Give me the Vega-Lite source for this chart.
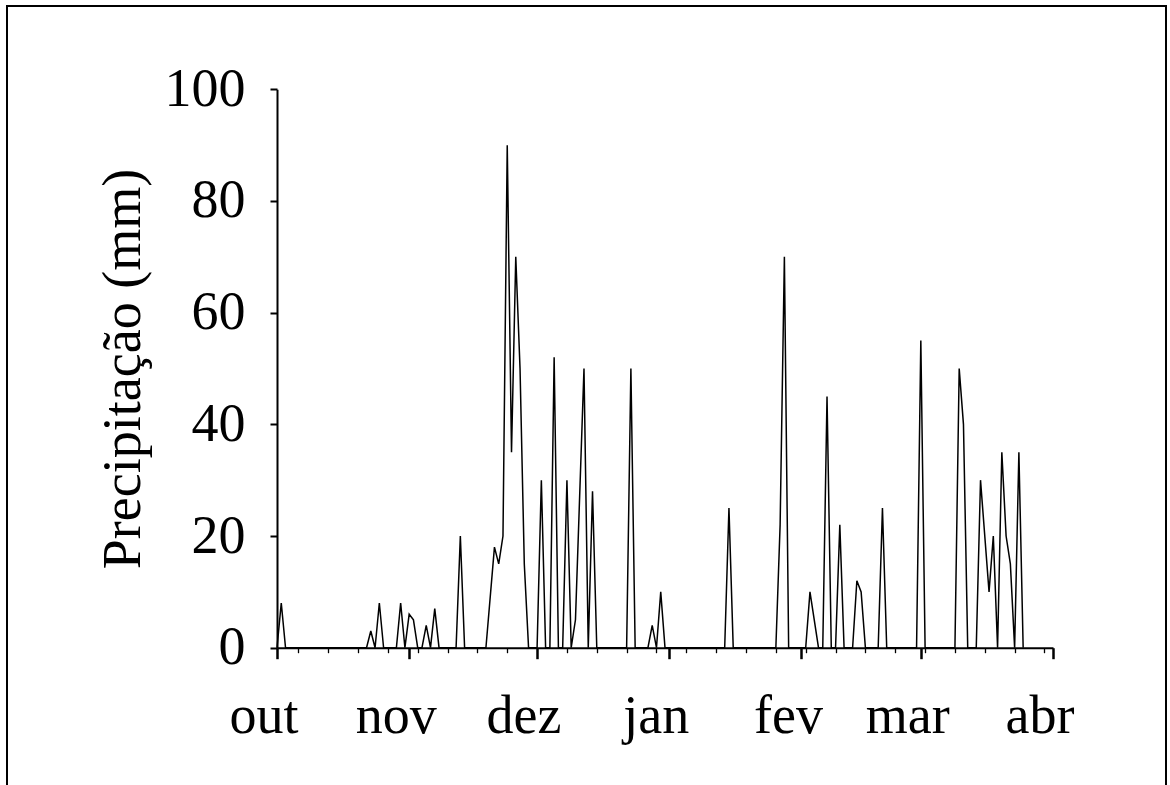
{
  "$schema": "https://vega.github.io/schema/vega-lite/v6.json",
  "width": 1159,
  "height": 800,
  "autosize": {"type": "none"},
  "padding": {"left": 7, "top": 6, "right": 4, "bottom": 0},
  "background": "white",
  "config": {
    "view": {"stroke": "black", "strokeWidth": 2},
    "font": "Liberation Serif"
  },
  "data": {
    "values": [
      {"date": "2008-10-01", "mm": 0}, {"date": "2008-10-02", "mm": 8}, {"date": "2008-10-03", "mm": 0}, {"date": "2008-10-04", "mm": 0},
      {"date": "2008-10-05", "mm": 0}, {"date": "2008-10-06", "mm": 0}, {"date": "2008-10-07", "mm": 0}, {"date": "2008-10-08", "mm": 0},
      {"date": "2008-10-09", "mm": 0}, {"date": "2008-10-10", "mm": 0}, {"date": "2008-10-11", "mm": 0}, {"date": "2008-10-12", "mm": 0},
      {"date": "2008-10-13", "mm": 0}, {"date": "2008-10-14", "mm": 0}, {"date": "2008-10-15", "mm": 0}, {"date": "2008-10-16", "mm": 0},
      {"date": "2008-10-17", "mm": 0}, {"date": "2008-10-18", "mm": 0}, {"date": "2008-10-19", "mm": 0}, {"date": "2008-10-20", "mm": 0},
      {"date": "2008-10-21", "mm": 0}, {"date": "2008-10-22", "mm": 0}, {"date": "2008-10-23", "mm": 3}, {"date": "2008-10-24", "mm": 0},
      {"date": "2008-10-25", "mm": 8}, {"date": "2008-10-26", "mm": 0}, {"date": "2008-10-27", "mm": 0}, {"date": "2008-10-28", "mm": 0},
      {"date": "2008-10-29", "mm": 0}, {"date": "2008-10-30", "mm": 8}, {"date": "2008-10-31", "mm": 0},
      {"date": "2008-11-01", "mm": 6}, {"date": "2008-11-02", "mm": 5}, {"date": "2008-11-03", "mm": 0}, {"date": "2008-11-04", "mm": 0},
      {"date": "2008-11-05", "mm": 4}, {"date": "2008-11-06", "mm": 0}, {"date": "2008-11-07", "mm": 7}, {"date": "2008-11-08", "mm": 0},
      {"date": "2008-11-09", "mm": 0}, {"date": "2008-11-10", "mm": 0}, {"date": "2008-11-11", "mm": 0}, {"date": "2008-11-12", "mm": 0},
      {"date": "2008-11-13", "mm": 20}, {"date": "2008-11-14", "mm": 0}, {"date": "2008-11-15", "mm": 0}, {"date": "2008-11-16", "mm": 0},
      {"date": "2008-11-17", "mm": 0}, {"date": "2008-11-18", "mm": 0}, {"date": "2008-11-19", "mm": 0},
      {"date": "2008-11-21", "mm": 18}, {"date": "2008-11-22", "mm": 15}, {"date": "2008-11-23", "mm": 20}, {"date": "2008-11-24", "mm": 90},
      {"date": "2008-11-25", "mm": 35}, {"date": "2008-11-26", "mm": 70}, {"date": "2008-11-27", "mm": 50}, {"date": "2008-11-28", "mm": 15},
      {"date": "2008-11-29", "mm": 0}, {"date": "2008-11-30", "mm": 0},
      {"date": "2008-12-01", "mm": 0}, {"date": "2008-12-02", "mm": 30}, {"date": "2008-12-03", "mm": 0}, {"date": "2008-12-04", "mm": 0},
      {"date": "2008-12-05", "mm": 52}, {"date": "2008-12-06", "mm": 0}, {"date": "2008-12-07", "mm": 0}, {"date": "2008-12-08", "mm": 30},
      {"date": "2008-12-09", "mm": 0}, {"date": "2008-12-10", "mm": 5}, {"date": "2008-12-12", "mm": 50},
      {"date": "2008-12-13", "mm": 0}, {"date": "2008-12-14", "mm": 28}, {"date": "2008-12-15", "mm": 0}, {"date": "2008-12-16", "mm": 0},
      {"date": "2008-12-17", "mm": 0}, {"date": "2008-12-18", "mm": 0}, {"date": "2008-12-19", "mm": 0}, {"date": "2008-12-20", "mm": 0},
      {"date": "2008-12-21", "mm": 0}, {"date": "2008-12-22", "mm": 0}, {"date": "2008-12-23", "mm": 50}, {"date": "2008-12-24", "mm": 0},
      {"date": "2008-12-25", "mm": 0}, {"date": "2008-12-26", "mm": 0}, {"date": "2008-12-27", "mm": 0}, {"date": "2008-12-28", "mm": 4},
      {"date": "2008-12-29", "mm": 0}, {"date": "2008-12-30", "mm": 10}, {"date": "2008-12-31", "mm": 0},
      {"date": "2009-01-01", "mm": 0}, {"date": "2009-01-02", "mm": 0}, {"date": "2009-01-03", "mm": 0}, {"date": "2009-01-04", "mm": 0},
      {"date": "2009-01-05", "mm": 0}, {"date": "2009-01-06", "mm": 0}, {"date": "2009-01-07", "mm": 0}, {"date": "2009-01-08", "mm": 0},
      {"date": "2009-01-09", "mm": 0}, {"date": "2009-01-10", "mm": 0}, {"date": "2009-01-11", "mm": 0}, {"date": "2009-01-12", "mm": 0},
      {"date": "2009-01-13", "mm": 0}, {"date": "2009-01-14", "mm": 0}, {"date": "2009-01-15", "mm": 25}, {"date": "2009-01-16", "mm": 0},
      {"date": "2009-01-17", "mm": 0}, {"date": "2009-01-18", "mm": 0}, {"date": "2009-01-19", "mm": 0}, {"date": "2009-01-20", "mm": 0},
      {"date": "2009-01-21", "mm": 0}, {"date": "2009-01-22", "mm": 0}, {"date": "2009-01-23", "mm": 0}, {"date": "2009-01-24", "mm": 0},
      {"date": "2009-01-25", "mm": 0}, {"date": "2009-01-26", "mm": 0}, {"date": "2009-01-27", "mm": 22}, {"date": "2009-01-28", "mm": 70},
      {"date": "2009-01-29", "mm": 0}, {"date": "2009-01-30", "mm": 0}, {"date": "2009-01-31", "mm": 0},
      {"date": "2009-02-01", "mm": 0}, {"date": "2009-02-02", "mm": 0}, {"date": "2009-02-03", "mm": 10},
      {"date": "2009-02-05", "mm": 0}, {"date": "2009-02-06", "mm": 0}, {"date": "2009-02-07", "mm": 45}, {"date": "2009-02-08", "mm": 0},
      {"date": "2009-02-09", "mm": 0}, {"date": "2009-02-10", "mm": 22}, {"date": "2009-02-11", "mm": 0}, {"date": "2009-02-12", "mm": 0},
      {"date": "2009-02-13", "mm": 0}, {"date": "2009-02-14", "mm": 12}, {"date": "2009-02-15", "mm": 10}, {"date": "2009-02-16", "mm": 0},
      {"date": "2009-02-17", "mm": 0}, {"date": "2009-02-18", "mm": 0}, {"date": "2009-02-19", "mm": 0}, {"date": "2009-02-20", "mm": 25},
      {"date": "2009-02-21", "mm": 0}, {"date": "2009-02-22", "mm": 0}, {"date": "2009-02-23", "mm": 0}, {"date": "2009-02-24", "mm": 0},
      {"date": "2009-02-25", "mm": 0}, {"date": "2009-02-26", "mm": 0}, {"date": "2009-02-27", "mm": 0}, {"date": "2009-02-28", "mm": 0},
      {"date": "2009-03-01", "mm": 55}, {"date": "2009-03-02", "mm": 0}, {"date": "2009-03-03", "mm": 0}, {"date": "2009-03-04", "mm": 0},
      {"date": "2009-03-05", "mm": 0}, {"date": "2009-03-06", "mm": 0}, {"date": "2009-03-07", "mm": 0}, {"date": "2009-03-08", "mm": 0},
      {"date": "2009-03-09", "mm": 0}, {"date": "2009-03-10", "mm": 50}, {"date": "2009-03-11", "mm": 40}, {"date": "2009-03-12", "mm": 0},
      {"date": "2009-03-13", "mm": 0}, {"date": "2009-03-14", "mm": 0}, {"date": "2009-03-15", "mm": 30},
      {"date": "2009-03-17", "mm": 10}, {"date": "2009-03-18", "mm": 20}, {"date": "2009-03-19", "mm": 0}, {"date": "2009-03-20", "mm": 35},
      {"date": "2009-03-21", "mm": 20}, {"date": "2009-03-22", "mm": 15}, {"date": "2009-03-23", "mm": 0}, {"date": "2009-03-24", "mm": 35},
      {"date": "2009-03-25", "mm": 0}
    ]
  },
  "mark": {"type": "line", "color": "black", "strokeWidth": 1.5},
  "encoding": {
    "x": {
      "field": "date",
      "type": "temporal",
      "scale": {
        "type": "utc",
        "domain": [
          {"year": 2008, "month": 10, "date": 1, "utc": true},
          {"year": 2009, "month": 4, "date": 1, "utc": true}
        ],
        "range": [270, 1046]
      },
      "axis": {
        "title": null,
        "grid": false,
        "offset": -158.3,
        "domainColor": "black",
        "domainWidth": 2,
        "tickColor": "black",
        "tickSize": {"condition": {"test": "utcdate(datum.value) === 1", "value": 11}, "value": 5},
        "tickWidth": {"condition": {"test": "utcdate(datum.value) === 1", "value": 2.5}, "value": 1.3},
        "values": [
          {"year": 2008, "month": 10, "date": 1, "utc": true},
          {"year": 2008, "month": 10, "date": 6, "utc": true},
          {"year": 2008, "month": 10, "date": 13, "utc": true},
          {"year": 2008, "month": 10, "date": 20, "utc": true},
          {"year": 2008, "month": 10, "date": 27, "utc": true},
          {"year": 2008, "month": 11, "date": 1, "utc": true},
          {"year": 2008, "month": 11, "date": 3, "utc": true},
          {"year": 2008, "month": 11, "date": 10, "utc": true},
          {"year": 2008, "month": 11, "date": 17, "utc": true},
          {"year": 2008, "month": 11, "date": 24, "utc": true},
          {"year": 2008, "month": 12, "date": 1, "utc": true},
          {"year": 2008, "month": 12, "date": 8, "utc": true},
          {"year": 2008, "month": 12, "date": 15, "utc": true},
          {"year": 2008, "month": 12, "date": 22, "utc": true},
          {"year": 2008, "month": 12, "date": 29, "utc": true},
          {"year": 2009, "month": 1, "date": 1, "utc": true},
          {"year": 2009, "month": 1, "date": 5, "utc": true},
          {"year": 2009, "month": 1, "date": 12, "utc": true},
          {"year": 2009, "month": 1, "date": 19, "utc": true},
          {"year": 2009, "month": 1, "date": 26, "utc": true},
          {"year": 2009, "month": 2, "date": 1, "utc": true},
          {"year": 2009, "month": 2, "date": 2, "utc": true},
          {"year": 2009, "month": 2, "date": 9, "utc": true},
          {"year": 2009, "month": 2, "date": 16, "utc": true},
          {"year": 2009, "month": 2, "date": 23, "utc": true},
          {"year": 2009, "month": 3, "date": 1, "utc": true},
          {"year": 2009, "month": 3, "date": 2, "utc": true},
          {"year": 2009, "month": 3, "date": 9, "utc": true},
          {"year": 2009, "month": 3, "date": 16, "utc": true},
          {"year": 2009, "month": 3, "date": 23, "utc": true},
          {"year": 2009, "month": 3, "date": 30, "utc": true},
          {"year": 2009, "month": 4, "date": 1, "utc": true}
        ],
        "labelExpr": "utcdate(datum.value) === 1 ? ['jan','fev','mar','abr','mai','jun','jul','ago','set','out','nov','dez'][utcmonth(datum.value)] : ''",
        "labelFont": "Liberation Serif",
        "labelFontSize": 54,
        "labelColor": "black",
        "labelAlign": "center",
        "labelBaseline": "alphabetic",
        "labelPadding": 74,
        "labelOffset": -13.5,
        "labelOverlap": false,
        "labelFlush": false,
        "labelBound": false
      }
    },
    "y": {
      "field": "mm",
      "type": "quantitative",
      "scale": {"domain": [0, 100], "range": [641.7, 83.3], "nice": false},
      "axis": {
        "title": "Precipitação (mm)",
        "titleFont": "Liberation Serif",
        "titleFontSize": 54,
        "titleFontWeight": "normal",
        "titleColor": "black",
        "titlePadding": 14,
        "grid": false,
        "offset": -270,
        "values": [0, 20, 40, 60, 80, 100],
        "domainColor": "black",
        "domainWidth": 2,
        "tickColor": "black",
        "tickSize": 7,
        "tickWidth": 2,
        "labelFont": "Liberation Serif",
        "labelFontSize": 54,
        "labelColor": "black",
        "labelPadding": 25,
        "labelOverlap": false,
        "labelFlush": false,
        "labelBound": false
      }
    }
  }
}
